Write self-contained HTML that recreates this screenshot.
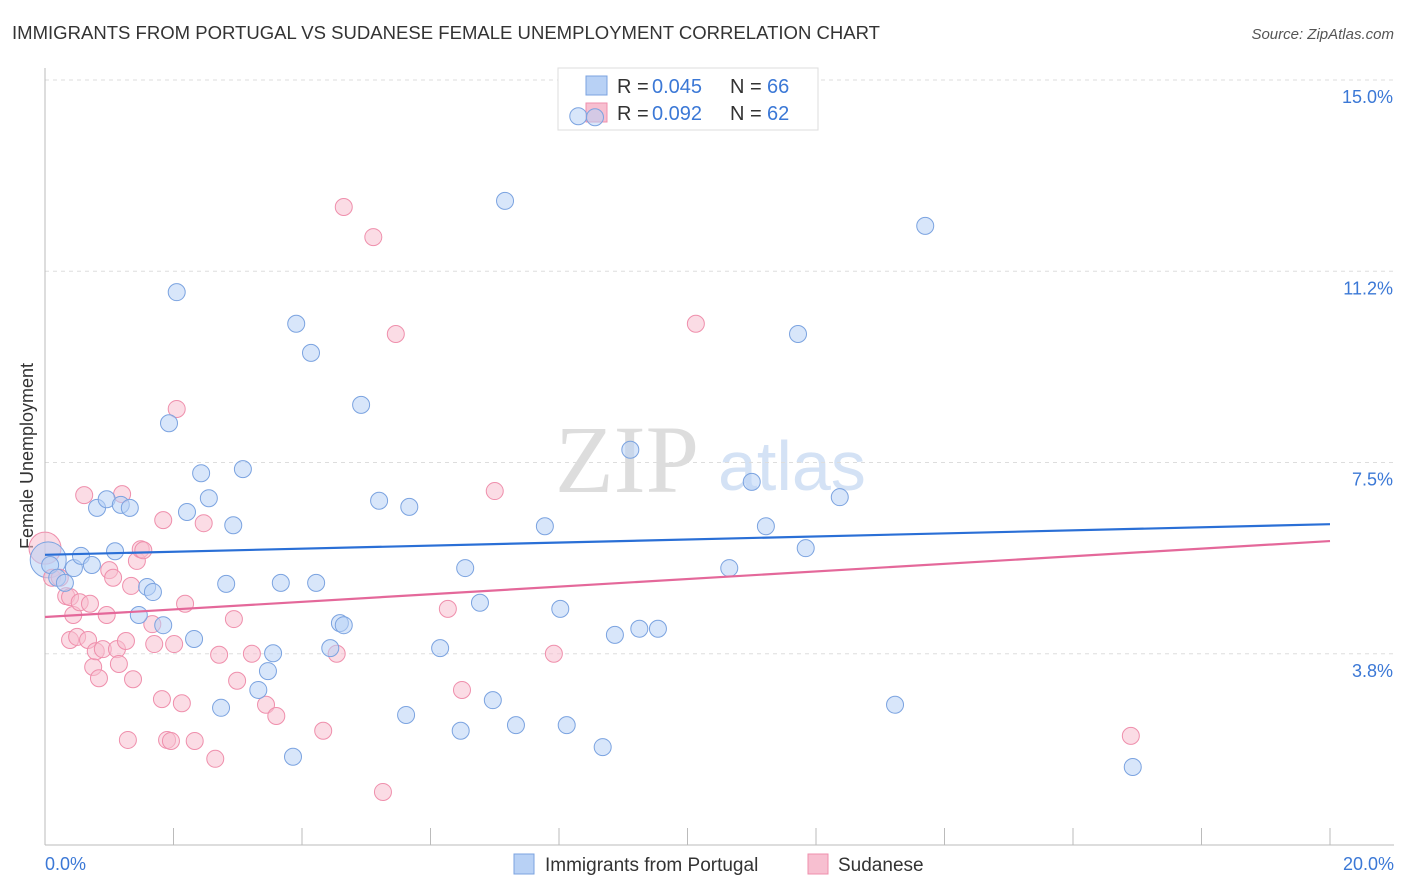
<!DOCTYPE html>
<html><head><meta charset="utf-8"><style>
body{margin:0;background:#fff;font-family:"Liberation Sans",sans-serif;}
svg{display:block}
</style></head><body>
<svg id="chart" width="1406" height="892">
<text x="12" y="39" font-size="18" fill="#333" textLength="868" lengthAdjust="spacingAndGlyphs">IMMIGRANTS FROM PORTUGAL VS SUDANESE FEMALE UNEMPLOYMENT CORRELATION CHART</text>
<text x="1394" y="39" font-size="15" fill="#555" font-style="italic" text-anchor="end">Source: ZipAtlas.com</text>
<text x="33" y="456" font-size="18" fill="#333" transform="rotate(-90 33 456)" text-anchor="middle">Female Unemployment</text>
<text x="555" y="492" font-size="96" fill="#ddd" font-family="Liberation Serif,serif">ZIP</text>
<text x="718" y="490" font-size="70" fill="#d4e2f5">atlas</text>
<g id="grid"></g>
<g>
<rect x="558" y="68" width="260" height="62" fill="#fff" stroke="#ddd"/>
<rect x="586" y="76" width="21" height="19" fill="#b8d1f5" stroke="#7ba3e0"/>
<rect x="586" y="103" width="21" height="19" fill="#f7bfd0" stroke="#ef8fac"/>
<text x="617" y="93" font-size="20" fill="#333">R =</text>
<text x="652" y="93" font-size="20" fill="#3b78d6">0.045</text>
<text x="730" y="93" font-size="20" fill="#333">N =</text>
<text x="767" y="93" font-size="20" fill="#3b78d6">66</text>
<text x="617" y="120" font-size="20" fill="#333">R =</text>
<text x="652" y="120" font-size="20" fill="#3b78d6">0.092</text>
<text x="730" y="120" font-size="20" fill="#333">N =</text>
<text x="767" y="120" font-size="20" fill="#3b78d6">62</text>
</g>
<g id="pts"></g><g id="trend"></g>
<g>
<rect x="514" y="854" width="20" height="20" fill="#b8d1f5" stroke="#7ba3e0"/>
<text x="545" y="871" font-size="19" fill="#333">Immigrants from Portugal</text>
<rect x="808" y="854" width="20" height="20" fill="#f7bfd0" stroke="#ef8fac"/>
<text x="838" y="871" font-size="19" fill="#333">Sudanese</text>
</g>
</svg>
<script>
const xTicks=[0,2,4,6,8,10,12,14,16,18,20];
const yTicks=[3.75,7.5,11.25,15];
const yTickLabels=["3.8%","7.5%","11.2%","15.0%"];
const xEndLabels=["0.0%","20.0%"];
const blueX=[0.08,0.19,0.31,0.45,0.56,0.73,0.81,0.96,1.09,1.18,1.32,1.59,1.68,1.46,1.84,1.93,2.05,2.21,2.32,2.43,2.55,2.74,2.82,2.93,3.08,3.32,3.47,3.55,3.67,3.86,3.91,4.14,4.22,4.44,4.59,4.65,4.92,5.20,5.62,5.67,6.15,6.47,6.54,6.77,6.97,7.16,7.33,7.78,8.02,8.12,8.30,8.56,8.68,8.87,9.11,9.25,9.54,10.65,11.00,11.22,11.72,11.84,12.37,13.23,13.70,16.93];
const blueY=[5.49,5.24,5.14,5.43,5.67,5.49,6.61,6.78,5.76,6.67,6.61,5.06,4.96,4.51,4.31,8.27,10.84,6.53,4.04,7.29,6.80,2.69,5.12,6.27,7.37,3.04,3.41,3.76,5.14,1.73,10.22,9.65,5.14,3.86,4.35,4.31,8.63,6.75,2.55,6.63,3.86,2.24,5.43,4.75,2.84,12.63,2.35,6.25,4.63,2.35,14.29,14.27,1.92,4.12,7.75,4.24,4.24,5.43,7.12,6.25,10.02,5.82,6.82,2.75,12.14,1.53];
const pinkX=[0.11,0.23,0.61,0.33,0.39,0.44,0.39,0.50,0.54,0.67,0.70,0.75,0.79,0.84,0.90,0.96,1.00,1.06,1.12,1.15,1.20,1.26,1.29,1.34,1.37,1.43,1.49,1.53,1.67,1.70,1.82,1.84,1.90,1.96,2.01,2.05,2.13,2.18,2.33,2.47,2.65,2.71,2.94,2.99,3.22,3.44,3.60,4.33,4.54,4.65,5.11,5.26,5.46,6.27,6.49,7.00,7.92,10.13,16.90];
const pinkY=[5.24,5.24,6.86,4.88,4.86,4.51,4.02,4.08,4.76,4.02,4.73,3.49,3.80,3.27,3.84,4.51,5.39,5.24,3.84,3.55,6.88,4.00,2.06,5.08,3.25,5.57,5.80,5.78,4.33,3.94,2.86,6.37,2.06,2.04,3.94,8.55,2.78,4.73,2.04,6.31,1.69,3.73,4.43,3.22,3.75,2.75,2.53,2.24,3.75,12.51,11.92,1.04,10.02,4.63,3.04,6.94,3.75,10.22,2.14];
const bigBlue=[0.05,5.59], bigPink=[0.0,5.82];
const blueTrend=[5.69,6.29], pinkTrend=[4.47,5.96];
const X=v=>45+v*64.25, Y=v=>845-v*51;
const NS="http://www.w3.org/2000/svg";
function mk(t,a,p){const e=document.createElementNS(NS,t);for(const k in a)e.setAttribute(k,a[k]);p.appendChild(e);return e;}
const grid=document.getElementById('grid');
yTicks.forEach((v,i)=>{
 const l=mk('line',{x1:45,x2:1394,y1:Y(v),y2:Y(v),stroke:'#ddd','stroke-dasharray':'4,4'},grid);
 
 
 const t=mk('text',{x:1393,y:Y(v)+23,'font-size':18,fill:'#3b78d6','text-anchor':'end'},grid);
 t.textContent=yTickLabels[i];
 
 
});
mk('line',{x1:45,x2:45,y1:68,y2:845,stroke:'#bbb'},grid);
mk('line',{x1:45,x2:1394,y1:845,y2:845,stroke:'#bbb'},grid);
xTicks.forEach(v=>{
 const l=mk('line',{x1:X(v),x2:X(v),y1:828,y2:845,stroke:'#bbb'},grid);
 
 
});
[[0,'start',45],[20,'end',1394]].forEach((d,i)=>{
 const t=mk('text',{x:d[2],y:870,'font-size':18,fill:'#3b78d6','text-anchor':d[1]},grid);
 t.textContent=xEndLabels[i];
 
 
});
const pts=document.getElementById('pts');
function dot(x,y,r,f,s,name){const c=mk('circle',{cx:X(x),cy:Y(y),r:r,fill:f,'fill-opacity':0.55,stroke:s,'stroke-width':1},pts);
 
 }
dot(bigPink[0],bigPink[1],16,'#f7bfd0','#ef8fac','sudanese-point');
dot(bigBlue[0],bigBlue[1],18,'#b8d1f5','#7ba3e0','portugal-point');
pinkX.forEach((x,i)=>dot(x,pinkY[i],8.5,'#f7bfd0','#ef8fac','sudanese-point'));
blueX.forEach((x,i)=>dot(x,blueY[i],8.5,'#b8d1f5','#7ba3e0','portugal-point'));
const tr=document.getElementById('trend');
const bt=mk('line',{x1:X(0),x2:X(20),y1:Y(blueTrend[0]),y2:Y(blueTrend[1]),stroke:'#2a6fd6','stroke-width':2.2},tr);


const pt=mk('line',{x1:X(0),x2:X(20),y1:Y(pinkTrend[0]),y2:Y(pinkTrend[1]),stroke:'#e4689a','stroke-width':2.2},tr);


</script>
</body></html>
